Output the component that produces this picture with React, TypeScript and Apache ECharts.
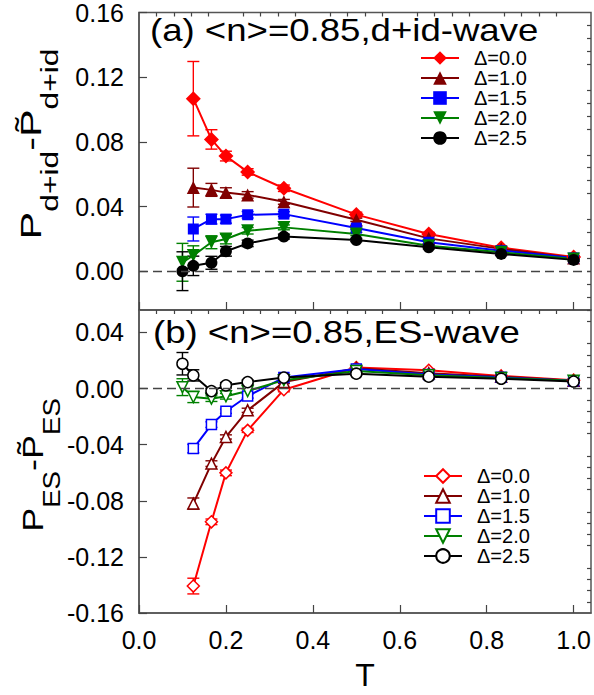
import React, { useEffect, useRef } from 'react';
import * as echarts from 'echarts';

const FONT = '"Liberation Sans", Arial, Helvetica, sans-serif';

// Temperatures
const T_LONG = [0.1, 0.125, 1 / 6, 0.2, 0.25, 1 / 3, 0.5, 2 / 3, 5 / 6, 1.0];
const T_SHORT = [0.125, 1 / 6, 0.2, 0.25, 1 / 3, 0.5, 2 / 3, 5 / 6, 1.0];

const deltaLabels = ['Δ=0.0', 'Δ=1.0', 'Δ=1.5', 'Δ=2.0', 'Δ=2.5'];
const colors = ['#ff0000', '#800000', '#0000ff', '#008000', '#000000'];

const titleA = '(a) <n>=0.85,d+id-wave';
const titleB = '(b) <n>=0.85,ES-wave';
const yNameA = '{p|P}{s|d+id}{p|-P\u0303}{s|d+id}';
const yNameB = '{p|P}{s|ES}{p|-P\u0303}{s|ES}';
const xName = 'T';

// Panel (a): d+id-wave
const aD00 = [0.1067, 0.0815, 0.0712, 0.0614, 0.0513, 0.035, 0.023, 0.0145, 0.0088];
const aD00Err = [0.023, 0.006, 0.003, 0.002, 0.002, 0.0015, 0.001, 0.001, 0.001];
const aD10 = [0.0517, 0.0503, 0.0486, 0.0472, 0.0429, 0.0318, 0.0203, 0.0138, 0.0082];
const aD10Err = [0.012, 0.004, 0.003, 0.002, 0.0015, 0.001, 0.001, 0.001, 0.001];
const aD15 = [0.0261, 0.0322, 0.0322, 0.0349, 0.0353, 0.0267, 0.0179, 0.0127, 0.0082];
const aD15Err = [0.0074, 0.003, 0.0025, 0.002, 0.0015, 0.001, 0.001, 0.001, 0.001];
const aD20 = [0.0055, 0.0097, 0.0179, 0.0199, 0.025, 0.0271, 0.023, 0.0158, 0.0117, 0.0076];
const aD20Err = [0.0117, 0.006, 0.004, 0.003, 0.002, 0.0015, 0.001, 0.001, 0.001, 0.001];
const aD25 = [0.0, 0.0033, 0.0052, 0.0123, 0.0172, 0.0214, 0.0193, 0.0148, 0.0107, 0.007];
const aD25Err = [0.012, 0.006, 0.004, 0.003, 0.002, 0.0015, 0.001, 0.001, 0.001, 0.001];

// Panel (b): ES-wave
const bD00 = [-0.1408, -0.095, -0.0601, -0.0298, -0.0008, 0.015, 0.013, 0.009, 0.006];
const bD00Err = [0.0056, 0.002, 0.002, 0.0015, 0.0015, 0.001, 0.001, 0.001, 0.001];
const bD10 = [-0.082, -0.0535, -0.0345, -0.0155, 0.0046, 0.0145, 0.011, 0.0085, 0.0055];
const bD10Err = [0.004, 0.002, 0.0015, 0.0015, 0.001, 0.001, 0.001, 0.001, 0.001];
const bD15 = [-0.0428, -0.0257, -0.0162, -0.0053, 0.0078, 0.014, 0.01, 0.008, 0.0055];
const bD15Err = [0.003, 0.002, 0.0015, 0.0015, 0.001, 0.001, 0.001, 0.001, 0.001];
const bD20 = [0.001, -0.006, -0.0072, -0.0055, -0.0018, 0.006, 0.0125, 0.0095, 0.0075, 0.0055];
const bD20Err = [0.006, 0.004, 0.002, 0.002, 0.0015, 0.001, 0.001, 0.001, 0.001, 0.001];
const bD25 = [0.0177, 0.0094, -0.0018, 0.0023, 0.0046, 0.0078, 0.0106, 0.0085, 0.007, 0.005];
const bD25Err = [0.008, 0.004, 0.002, 0.002, 0.0015, 0.001, 0.001, 0.001, 0.001, 0.001];

// Axis ticks
const xMajorTicks = [0, 0.2, 0.4, 0.6, 0.8, 1.0];
const yTopMajorTicks = [0, 0.04, 0.08, 0.12, 0.16];
const yBotMajorTicks = [-0.16, -0.12, -0.08, -0.04, 0, 0.04];

function minorTicks(from: number, to: number, step: number) {
  const out: number[] = [];
  const n = Math.round((to - from) / step);
  for (let i = 0; i <= n; i++) out.push(+(from + i * step).toFixed(4));
  return out;
}

const topSets = [
  { t: T_SHORT, v: aD00, e: aD00Err },
  { t: T_SHORT, v: aD10, e: aD10Err },
  { t: T_SHORT, v: aD15, e: aD15Err },
  { t: T_LONG, v: aD20, e: aD20Err },
  { t: T_LONG, v: aD25, e: aD25Err },
];
const botSets = [
  { t: T_SHORT, v: bD00, e: bD00Err },
  { t: T_SHORT, v: bD10, e: bD10Err },
  { t: T_SHORT, v: bD15, e: bD15Err },
  { t: T_LONG, v: bD20, e: bD20Err },
  { t: T_LONG, v: bD25, e: bD25Err },
];

const symbols = ['diamond', 'triangle', 'rect', 'triangle', 'circle'];
const rotations = [0, 0, 0, 180, 0];
const filledSizes = [15, 13, 11, 13, 12];
const openSizes = [12, 11, 10, 11, 11];

const X_MIN = 0;
const X_MAX = 1.04;
const YA_MIN = -0.024;
const YA_MAX = 0.16;
const YB_MIN = -0.16;
const YB_MAX = 0.056;

export default function App() {
  const ref = useRef<HTMLDivElement>(null);
  useEffect(() => {
    if (!ref.current) return;
    const chart = echarts.init(ref.current, null, { renderer: 'svg' });

    const tickColor = '#444';
    const frame = '#555';

    const errSeries = (sets: any[], xi: number, yi: number, pref: string) =>
      sets.map((s, k) => ({
        type: 'custom',
        name: pref + 'err' + k,
        xAxisIndex: xi,
        yAxisIndex: yi,
        z: 1,
        silent: true,
        data: s.t.map((t: number, i: number) => [t, s.v[i], s.e[i]]),
        encode: { x: 0, y: 1 },
        renderItem: (params: any, api: any) => {
          const x = api.value(0);
          const y = api.value(1);
          const e = api.value(2);
          const top = api.coord([x, y + e]);
          const bot = api.coord([x, y - e]);
          const hw = 6;
          const st = { stroke: colors[k], lineWidth: 1.4 };
          return {
            type: 'group',
            children: [
              { type: 'line', shape: { x1: top[0], y1: top[1], x2: bot[0], y2: bot[1] }, style: st },
              { type: 'line', shape: { x1: top[0] - hw, y1: top[1], x2: top[0] + hw, y2: top[1] }, style: st },
              { type: 'line', shape: { x1: bot[0] - hw, y1: bot[1], x2: bot[0] + hw, y2: bot[1] }, style: st },
            ],
          };
        },
      }));

    const zeroLine = {
      silent: true,
      symbol: 'none',
      label: { show: false },
      lineStyle: { color: '#444', type: [9, 5], width: 1.4 },
      data: [{ yAxis: 0 }],
    };

    const lineSeries = (sets: any[], xi: number, yi: number, pref: string, open: boolean) =>
      sets.map((s, k) => ({
        type: 'line',
        name: pref + deltaLabels[k],
        xAxisIndex: xi,
        yAxisIndex: yi,
        z: 3,
        data: s.t.map((t: number, i: number) => [t, s.v[i]]),
        symbol: symbols[k],
        symbolRotate: rotations[k],
        symbolSize: open ? openSizes[k] : filledSizes[k],
        showAllSymbol: true,
        lineStyle: { color: colors[k], width: 2 },
        itemStyle: open
          ? { color: '#ffffff', borderColor: colors[k], borderWidth: 1.5 }
          : { color: colors[k], borderColor: colors[k], borderWidth: 0 },
        markLine: k === 4 ? zeroLine : undefined,
      }));

    const labelStyle = { fontSize: 25, color: '#000', fontFamily: FONT };

    const xAx = (grid: number, showLabels: boolean, name: string) => [
      {
        type: 'value',
        gridIndex: grid,
        min: X_MIN,
        max: X_MAX,
        axisLine: { show: true, onZero: false, lineStyle: { color: frame, width: 1.5 } },
        axisTick: { show: true, inside: true, length: 8, customValues: xMajorTicks, lineStyle: { color: tickColor, width: 1.2 } },
        axisLabel: showLabels
          ? { show: true, customValues: xMajorTicks, margin: 14, formatter: (v: number) => v.toFixed(1), ...labelStyle }
          : { show: false },
        splitLine: { show: false },
        name,
        nameLocation: 'middle',
        nameGap: 46,
        nameTextStyle: { fontSize: 32, color: '#000', fontFamily: FONT },
      },
      {
        type: 'value',
        gridIndex: grid,
        min: X_MIN,
        max: X_MAX,
        axisLine: { show: false, onZero: false },
        axisTick: { show: true, inside: true, length: 4, customValues: minorTicks(0.04, 1.0, 0.04).filter((v) => Math.abs(v / 0.2 - Math.round(v / 0.2)) > 1e-6), lineStyle: { color: tickColor, width: 1.2 } },
        axisLabel: { show: false },
        splitLine: { show: false },
      },
    ];

    const yAx = (grid: number, min: number, max: number, major: number[], minor: number[]) => [
      {
        type: 'value',
        gridIndex: grid,
        min,
        max,
        axisLine: { show: true, onZero: false, lineStyle: { color: frame, width: 1.5 } },
        axisTick: { show: true, inside: true, length: 8, customValues: major, lineStyle: { color: tickColor, width: 1.2 } },
        axisLabel: { show: true, customValues: major, margin: 15, formatter: (v: number) => v.toFixed(2), ...labelStyle },
        splitLine: { show: false },
      },
      {
        type: 'value',
        gridIndex: grid,
        min,
        max,
        axisLine: { show: false, onZero: false },
        axisTick: { show: true, inside: true, length: 4, customValues: minor, lineStyle: { color: tickColor, width: 1.2 } },
        axisLabel: { show: false },
        splitLine: { show: false },
      },
    ];

    const rich = {
      p: { fontSize: 30, fontFamily: FONT, fill: '#000', color: '#000' },
      s: { fontSize: 23, fontFamily: FONT, fill: '#000', color: '#000', padding: [38, 0, 0, 0] },
    };

    const isMajor = (v: number) => Math.abs(v / 0.04 - Math.round(v / 0.04)) < 1e-6;
    const yTopMinor = minorTicks(-0.016, 0.152, 0.008).filter((v) => !isMajor(v));
    const yBotMinor = minorTicks(-0.152, 0.056, 0.008).filter((v) => !isMajor(v));

    const option: any = {
      animation: false,
      backgroundColor: '#ffffff',
      textStyle: { fontFamily: FONT },
      graphic: [
        {
          type: 'text',
          x: 150,
          y: 30,
          scaleX: 1.18,
          z: 10,
          style: { text: titleA, fontSize: 31, fontFamily: FONT, fill: '#000', align: 'left', verticalAlign: 'middle' },
        },
        {
          type: 'text',
          x: 153,
          y: 332,
          scaleX: 1.18,
          z: 10,
          style: { text: titleB, fontSize: 31, fontFamily: FONT, fill: '#000', align: 'left', verticalAlign: 'middle' },
        },
        {
          type: 'text',
          x: 31,
          y: 144,
          rotation: Math.PI / 2,
          scaleX: 1.38,
          z: 10,
          style: { text: yNameA, rich, fontFamily: FONT, fill: '#000', align: 'center', verticalAlign: 'middle' },
        },
        {
          type: 'text',
          x: 33,
          y: 465,
          rotation: Math.PI / 2,
          scaleX: 1.2,
          z: 10,
          style: { text: yNameB, rich, fontFamily: FONT, fill: '#000', align: 'center', verticalAlign: 'middle' },
        },
      ],
      grid: [
        { left: 139, top: 9, width: 452, height: 301, show: true, borderColor: frame, borderWidth: 1.5, backgroundColor: 'transparent' },
        { left: 139, top: 310, width: 452, height: 303, show: true, borderColor: frame, borderWidth: 1.5, backgroundColor: 'transparent' },
      ],
      legend: [
        {
          data: deltaLabels,
          orient: 'vertical',
          left: 415,
          top: 43,
          itemWidth: 38,
          itemHeight: 17,
          itemGap: 0,
          textStyle: { fontSize: 20, lineHeight: 20, color: '#000', fontFamily: FONT, padding: [0, 0, 0, 10] },
        },
        {
          data: deltaLabels.map((d) => 'b:' + d),
          formatter: (n: string) => n.replace('b:', ''),
          orient: 'vertical',
          left: 418,
          top: 461,
          itemWidth: 38,
          itemHeight: 17,
          itemGap: 0,
          textStyle: { fontSize: 20, lineHeight: 20, color: '#000', fontFamily: FONT, padding: [0, 0, 0, 10] },
        },
      ],
      xAxis: [...xAx(0, false, ''), ...xAx(1, true, xName)],
      yAxis: [
        ...yAx(0, YA_MIN, YA_MAX, yTopMajorTicks, yTopMinor),
        ...yAx(1, YB_MIN, YB_MAX, yBotMajorTicks, yBotMinor),
      ],
      series: [
        ...errSeries(topSets, 0, 0, 'a'),
        ...errSeries(botSets, 2, 2, 'b'),
        ...lineSeries(topSets, 0, 0, '', false),
        ...lineSeries(botSets, 2, 2, 'b:', true),
      ],
    };

    chart.setOption(option);
    return () => chart.dispose();
  }, []);

  return <div ref={ref} style={{ position: 'fixed', left: 0, top: 0, width: 594, height: 695 }} />;
}
